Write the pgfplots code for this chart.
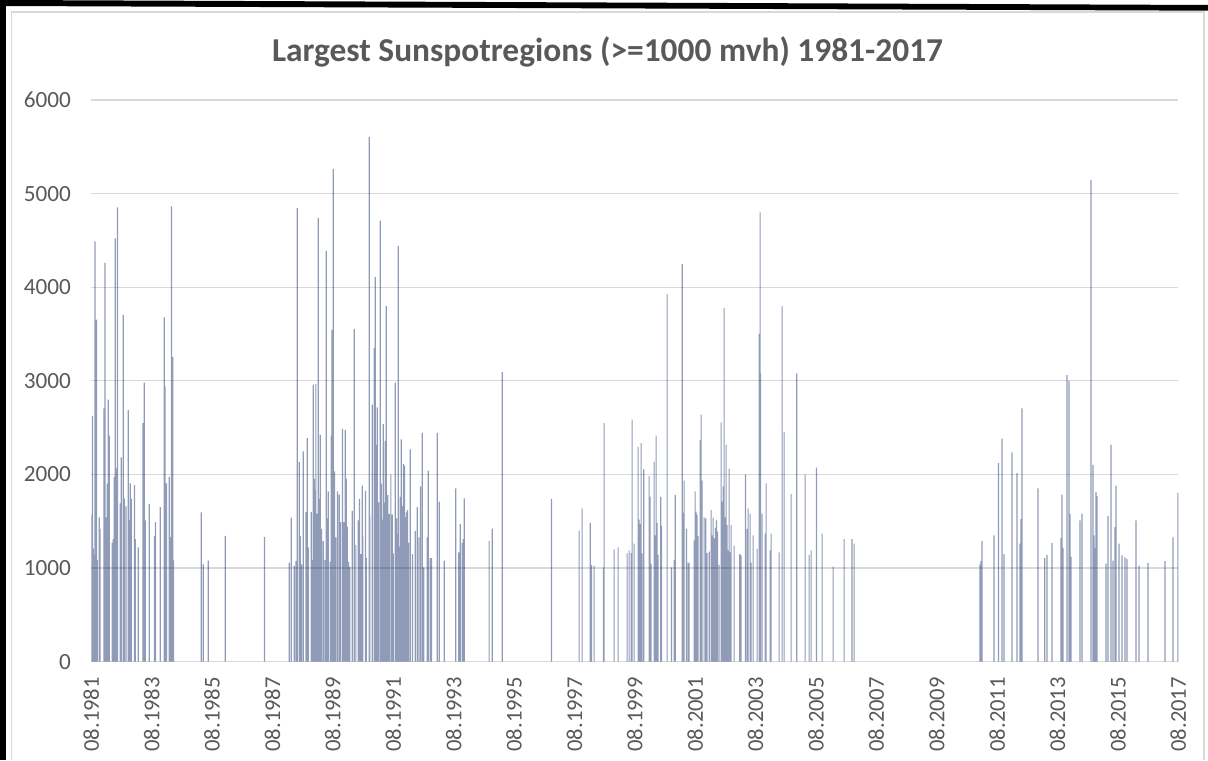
\documentclass[border=0pt]{standalone}
\usepackage{pgfplots}
\pgfplotsset{compat=1.18}
\usepackage{pgfplotstable}
\usepackage{fontspec}
\setmainfont{Carlito}
\definecolor{txtgray}{RGB}{89,89,89}
\definecolor{gridgray}{RGB}{217,217,217}
\definecolor{barnavy}{RGB}{31,56,112}

\pgfplotstableread{
year value
1981.539 1570
1981.572 2626
1981.595 1208
1981.645 1140
1981.650 4490
1981.655 3049
1981.705 3653
1981.727 1087
1981.793 1542
1981.815 1418
1981.948 2706
1981.955 1510
1981.981 4261
1982.014 1542
1982.058 1901
1982.091 2799
1982.124 2416
1982.224 1269
1982.257 1309
1982.290 1973
1982.323 4523
1982.345 2066
1982.400 4853
1982.489 1692
1982.522 2183
1982.588 3705
1982.621 1744
1982.676 1660
1982.753 2690
1982.787 1510
1982.820 1905
1982.853 1740
1982.963 1885
1982.985 1309
1983.085 1220
1983.239 2549
1983.283 2980
1983.316 1510
1983.449 1683
1983.625 1341
1983.659 1490
1983.813 1651
1983.945 3677
1983.968 2940
1984.001 1530
1984.023 1905
1984.111 1973
1984.144 1330
1984.188 4865
1984.232 3254
1984.255 1087
1985.171 1595
1985.237 1039
1985.402 1079
1985.965 1345
1987.268 1333
1988.084 1059
1988.150 1538
1988.250 1027
1988.305 1075
1988.349 4845
1988.415 2134
1988.448 1341
1988.493 1039
1988.548 2247
1988.636 1599
1988.680 2388
1988.713 1220
1988.813 1599
1988.846 1087
1988.879 2960
1988.912 1953
1988.945 1832
1988.967 2968
1989.000 1583
1989.044 4740
1989.078 1740
1989.111 2424
1989.155 1418
1989.210 1289
1989.265 1087
1989.309 4389
1989.342 1530
1989.376 1820
1989.442 1067
1989.475 2416
1989.497 3544
1989.541 5263
1989.585 2034
1989.629 1329
1989.685 1820
1989.740 1784
1989.784 1490
1989.850 2485
1989.894 1490
1989.938 2477
1989.972 1953
1990.005 1442
1990.049 1067
1990.093 1015
1990.170 1611
1990.236 3552
1990.292 1248
1990.369 1510
1990.413 1740
1990.457 1148
1990.501 1881
1990.523 1337
1990.612 1824
1990.634 1107
1990.733 5606
1990.755 1562
1990.833 2746
1990.899 3350
1990.932 4107
1990.954 2315
1990.998 2718
1991.042 1703
1991.097 4712
1991.131 1901
1991.164 1518
1991.197 2537
1991.241 1699
1991.263 2356
1991.296 3797
1991.351 1780
1991.395 1579
1991.451 2001
1991.495 1570
1991.528 1156
1991.594 2980
1991.638 1530
1991.671 1361
1991.693 4442
1991.727 1228
1991.760 1760
1991.793 2376
1991.837 1663
1991.870 2114
1991.903 2094
1991.936 1542
1991.969 1595
1992.002 1619
1992.036 1269
1992.091 2267
1992.168 1148
1992.256 1397
1992.323 1651
1992.378 1329
1992.433 1873
1992.488 2444
1992.543 1007
1992.654 1329
1992.687 2042
1992.753 1107
1992.797 1107
1992.985 2444
1993.051 1711
1993.217 1079
1993.603 1852
1993.702 1168
1993.746 1470
1993.813 1269
1993.846 1309
1993.879 1744
1994.706 1289
1994.806 1422
1995.137 3093
1996.770 1740
1997.686 1401
1997.786 1639
1998.051 1482
1998.095 1031
1998.183 1027
1998.492 1007
1998.514 2549
1998.845 1200
1998.978 1220
1999.276 1156
1999.342 1188
1999.408 1160
1999.441 2585
1999.508 1260
1999.640 2295
1999.673 1518
1999.706 1470
1999.739 2336
1999.773 1156
1999.828 2054
2000.004 1981
2000.037 1764
2000.071 1047
2000.170 2134
2000.203 1349
2000.236 2416
2000.269 1482
2000.302 1140
2000.391 1760
2000.413 1450
2000.601 3926
2000.744 1007
2000.833 1087
2000.866 1780
2001.098 4248
2001.131 1591
2001.164 1933
2001.241 1418
2001.296 1059
2001.329 1055
2001.495 1297
2001.528 1820
2001.561 1603
2001.594 1570
2001.627 1341
2001.694 2368
2001.727 2638
2001.760 1933
2001.826 1542
2001.881 1530
2001.925 1160
2001.992 1176
2002.058 1623
2002.091 1349
2002.124 1538
2002.157 1317
2002.201 1430
2002.235 1510
2002.268 1389
2002.323 1035
2002.389 2557
2002.422 1711
2002.455 1873
2002.488 3777
2002.521 1542
2002.555 2315
2002.588 1458
2002.621 1188
2002.654 2062
2002.687 1168
2002.720 1458
2002.819 1240
2003.007 1148
2003.051 1136
2003.195 2001
2003.250 1418
2003.283 1639
2003.349 1583
2003.382 1059
2003.449 1349
2003.581 1208
2003.647 3503
2003.680 4800
2003.690 3085
2003.747 1583
2003.846 1369
2003.879 1905
2004.012 1188
2004.045 1369
2004.310 1168
2004.409 3797
2004.475 2456
2004.707 1792
2004.895 3081
2005.170 2001
2005.303 1140
2005.369 1188
2005.546 2074
2005.733 1369
2006.098 1015
2006.462 1309
2006.726 1309
2006.793 1260
2010.965 1039
2010.998 1075
2011.031 1289
2011.428 1349
2011.572 2122
2011.693 2384
2011.760 1148
2012.024 2235
2012.190 2014
2012.289 1260
2012.322 1522
2012.356 2706
2012.885 1852
2013.106 1107
2013.183 1140
2013.349 1269
2013.647 1321
2013.680 1784
2013.713 1216
2013.846 3060
2013.912 3000
2013.945 1579
2013.978 1119
2014.276 1510
2014.342 1583
2014.640 5146
2014.707 2102
2014.740 1349
2014.773 1216
2014.806 1812
2014.839 1772
2015.137 1047
2015.203 1558
2015.303 2315
2015.369 1079
2015.435 1438
2015.468 1881
2015.567 1260
2015.667 1136
2015.766 1115
2015.832 1095
2016.130 1510
2016.230 1027
2016.528 1055
2017.091 1075
2017.356 1329
2017.515 1458
2017.521 1804
}\sunspots

\begin{document}
\begin{tikzpicture}
\path[use as bounding box] (0,0) rectangle (604pt,380pt);
% outer black frame (left and top)
\fill[black] (0,0) rectangle (3pt,380pt);
\fill[black] (0,380pt) -- (604pt,377.5pt) -- (604pt,374.65pt) -- (0,377pt) -- cycle;
% chart area border
\draw[gridgray, line width=0.75pt] (5.85pt,0) -- (5.85pt,374pt) -- (602pt,374pt) -- (602pt,0);
\begin{axis}[
  at={(45.65pt,49.15pt)}, anchor=south west,
  scale only axis, width=543.5pt, height=280.85pt,
  xmin=1981.53, xmax=2017.53, ymin=0, ymax=6000,
  axis line style={draw=none},
  ymajorgrids, grid style={draw=gridgray, line width=0.6pt},
  major tick length=0pt, tick style={draw=none},
  ytick={0,1000,2000,3000,4000,5000,6000},
  xtick={1981.53,1983.53,1985.53,1987.53,1989.53,1991.53,1993.53,1995.53,1997.53,1999.53,2001.53,2003.53,2005.53,2007.53,2009.53,2011.53,2013.53,2015.53,2017.53},
  xticklabels={08.1981,08.1983,08.1985,08.1987,08.1989,08.1991,08.1993,08.1995,08.1997,08.1999,08.2001,08.2003,08.2005,08.2007,08.2009,08.2011,08.2013,08.2015,08.2017},
  ticklabel style={font=\fontsize{11.6}{13}\selectfont, text=txtgray, inner sep=0pt},
  xticklabel style={rotate=90, anchor=east, font=\fontsize{11.3}{13}\selectfont},
  yticklabel style={anchor=east},
  xticklabel shift=7.5pt,
  yticklabel shift=10pt,
  /pgf/number format/.cd, assume math mode=true, set thousands separator={}, 
]
\addplot[ybar, bar width=0.6pt, bar shift=0pt, draw=none, fill=barnavy, fill opacity=0.5] table[x=year, y=value] {\sunspots};
\end{axis}
\node[anchor=base, text=txtgray, font=\fontsize{16.7}{20}\selectfont\bfseries] at (303.75pt,349pt) {Largest Sunspotregions (>=1000 mvh) 1981-2017};
\end{tikzpicture}
\end{document}
